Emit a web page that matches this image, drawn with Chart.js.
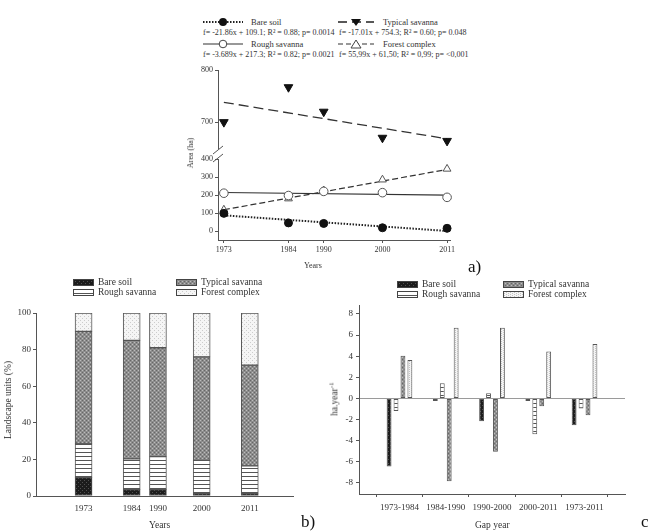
<!DOCTYPE html>
<html>
<head>
<meta charset="utf-8">
<script src="https://cdn.jsdelivr.net/npm/chart.js@4.4.1/dist/chart.umd.min.js"></script>
<style>
body{margin:0;background:#fff;width:648px;height:531px;position:relative;overflow:hidden;font-family:"Liberation Serif","Times New Roman",serif;color:#333}
.t{position:absolute;white-space:nowrap;line-height:12px}
canvas{position:absolute}
.rot{transform:translate(-50%,-50%) rotate(-90deg)}
.sw{position:absolute}
</style>
</head>
<body>
<!-- panel a legend -->
<svg class="sw" style="left:203px;top:16px" width="40" height="12"><line x1="0" y1="6" x2="40" y2="6" stroke="#222" stroke-width="2" stroke-dasharray="1.5 1.5"/><circle cx="20" cy="6" r="4" fill="#111"/></svg>
<div class="t" style="left:251px;top:16px;font-size:8.5px">Bare soil</div>
<svg class="sw" style="left:338px;top:16px" width="36" height="12"><line x1="0" y1="6" x2="36" y2="6" stroke="#222" stroke-width="1.3" stroke-dasharray="9 5"/><polygon points="13,3 23,3 18,10" fill="#111"/></svg>
<div class="t" style="left:383px;top:16px;font-size:8.5px">Typical savanna</div>
<div class="t" style="left:203px;top:27px;font-size:8px">f= -21.86x + 109.1; R² = 0.88; p= 0.0014</div>
<div class="t" style="left:339px;top:27px;font-size:8px">f= -17.01x + 754.3; R² = 0.60; p= 0.048</div>
<svg class="sw" style="left:203px;top:38px" width="40" height="12"><line x1="0" y1="6" x2="40" y2="6" stroke="#333" stroke-width="1.2"/><circle cx="20" cy="6" r="3.8" fill="#fff" stroke="#444" stroke-width="1"/></svg>
<div class="t" style="left:251px;top:38px;font-size:8.5px">Rough savanna</div>
<svg class="sw" style="left:338px;top:38px" width="36" height="12"><line x1="0" y1="6" x2="36" y2="6" stroke="#333" stroke-width="1.2" stroke-dasharray="5 3"/><polygon points="18,2 23,10 13,10" fill="#fff" stroke="#444" stroke-width="1"/></svg>
<div class="t" style="left:383px;top:38px;font-size:8.5px">Forest complex</div>
<div class="t" style="left:203px;top:49px;font-size:8px">f= -3.689x + 217.3; R² = 0.82; p= 0.0021</div>
<div class="t" style="left:339px;top:49px;font-size:8px">f= 55,99x + 61,50; R² = 0,99; p= &lt;0,001</div>

<canvas id="upA" width="300" height="95" style="left:160px;top:60px"></canvas>
<canvas id="loA" width="300" height="125" style="left:160px;top:140px"></canvas>
<div class="t rot" style="left:191px;top:153px;font-size:8px">Area (ha)</div>
<div class="t" style="left:304px;top:260px;font-size:8px">Years</div>
<div class="t" style="left:468px;top:257px;font-size:17px;line-height:20px;color:#111">a)</div>

<!-- panel b -->
<canvas id="chB" width="300" height="230" style="left:0px;top:300px"></canvas>
<div id="legB"></div>
<div class="t rot" style="left:8px;top:400px;font-size:9.5px">Landscape units (%)</div>
<div class="t" style="left:149px;top:519px;font-size:9.5px">Years</div>
<div class="t" style="left:301px;top:512px;font-size:17px;line-height:20px;color:#111">b)</div>

<!-- panel c -->
<canvas id="chC" width="348" height="235" style="left:300px;top:295px"></canvas>
<div id="legC"></div>
<div class="t rot" style="left:333px;top:399px;font-size:9.5px">ha.year<sup style="font-size:7px">-1</sup></div>
<div class="t" style="left:475px;top:519px;font-size:9.5px">Gap year</div>
<div class="t" style="left:641px;top:512px;font-size:17px;line-height:20px;color:#111">c)</div>

<script>
// ---- panel a: area (ha) per year
const yearsA = [1973, 1984, 1990, 2000, 2011];
const bareSoilA = [98, 45, 42, 18, 15];
const roughSavA = [210, 197, 220, 213, 187];
const typicalSavA = [700, 767, 720, 670, 664];
const forestCompA = [118, 180, 225, 285, 345];
// fitted lines, read at both ends
const fitYears = [1973, 2011];
const bareSoilFit = [87, 0];
const roughSavFit = [214, 199];
const typicalSavFit = [738, 668];
const forestCompFit = [118, 342];
const ticksUpA = [700, 800];
const ticksLoA = [0, 100, 200, 300, 400];

// ---- panel b: landscape units (%)
const yearsB = [1973, 1984, 1990, 2000, 2011];
const bareSoilB = [10, 3.5, 3.5, 1.5, 1.5];
const roughSavB = [18.5, 16.8, 18, 18, 15];
const typicalSavB = [61.5, 64.7, 59.5, 56.5, 55];
const forestCompB = [10, 15, 19, 24, 28.5];
const ticksB = [0, 20, 40, 60, 80, 100];

// ---- panel c: rate ha.year-1
const gapYears = ['1973-1984', '1984-1990', '1990-2000', '2000-2011', '1973-2011'];
const bareSoilC = [-6.45, -0.25, -2.15, -0.25, -2.55];
const roughSavC = [-1.2, 1.45, 0.5, -3.4, -0.95];
const typicalSavC = [4.05, -7.85, -5.05, -0.75, -1.6];
const forestCompC = [3.65, 6.7, 6.7, 4.45, 5.15];
const ticksC = [-8, -6, -4, -2, 0, 2, 4, 6, 8];

const unitNames = ['Bare soil', 'Typical savanna', 'Rough savanna', 'Forest complex'];

Chart.defaults.font.family = '"Liberation Serif", "Times New Roman", serif';
Chart.defaults.color = '#333';
Chart.defaults.animation = false;
Chart.defaults.responsive = false;
Chart.defaults.plugins.legend.display = false;
Chart.defaults.plugins.tooltip.enabled = false;

const axisCol = '#555';

function pts(xs, ys){
  return xs.map((x, i) => ({x: x, y: ys[i]}));
}

function makePattern(kind){
  const c = document.createElement('canvas');
  c.width = 4; c.height = 4;
  const g = c.getContext('2d');
  const px = (col, list) => { g.fillStyle = col; list.forEach(p => g.fillRect(p[0], p[1], 1, 1)); };
  if(kind === 'bare'){
    g.fillStyle = '#1c1c1c'; g.fillRect(0,0,4,4);
    px('#505050', [[0,0],[2,2]]);
  } else if(kind === 'rough'){
    g.fillStyle = '#fff'; g.fillRect(0,0,4,4);
    g.fillStyle = '#555'; g.fillRect(0,0,4,1);
  } else if(kind === 'typical'){
    g.fillStyle = '#8d8d8d'; g.fillRect(0,0,4,4);
    px('#bcbcbc', [[0,0],[2,2]]);
    px('#676767', [[2,0],[0,2]]);
  } else if(kind === 'forest'){
    g.fillStyle = '#f5f5f5'; g.fillRect(0,0,4,4);
    px('#cccccc', [[0,0],[2,2]]);
  } else if(kind === 'forestC'){
    g.fillStyle = '#f4f4f4'; g.fillRect(0,0,4,4);
    px('#c4c4c4', [[1,0],[1,2],[3,1],[3,3]]);
  }
  return g.createPattern(c, 'repeat');
}

const pat = {
  bare: makePattern('bare'),
  rough: makePattern('rough'),
  typical: makePattern('typical'),
  forest: makePattern('forest'),
  forestC: makePattern('forestC')
};

function fixW(w){ return s => { s.width = w; }; }
function fixH(h){ return s => { s.height = h; }; }
function setTicks(list){ return s => { s.ticks = list.map(v => ({value: v})); }; }

// legend boxes for b and c
function legend(id, cols, rows, fills){
  const el = document.getElementById(id);
  [0, 1, 2, 3].forEach(i => {
    const cx = cols[i % 2], cy = rows[Math.floor(i / 2)];
    const cv = document.createElement('canvas');
    cv.width = 21; cv.height = 7;
    cv.style.left = cx + 'px'; cv.style.top = (cy - 3) + 'px';
    const g = cv.getContext('2d');
    g.fillStyle = fills[i]; g.fillRect(0, 0, 21, 7);
    g.strokeStyle = '#444'; g.lineWidth = 1; g.strokeRect(0.5, 0.5, 20, 6);
    el.appendChild(cv);
    const tx = document.createElement('div');
    tx.className = 't';
    tx.style.left = (cx + 25) + 'px'; tx.style.top = (cy - 6) + 'px';
    tx.style.fontSize = '9.5px';
    tx.textContent = unitNames[i];
    el.appendChild(tx);
  });
}
legend('legB', [73, 176], [282, 292], [pat.bare, pat.typical, pat.rough, pat.forest]);
legend('legC', [397, 503], [284, 294], [pat.bare, pat.typical, pat.rough, pat.forestC]);

const yGrid = {drawOnChartArea: false, tickLength: 3, tickColor: axisCol};
const border = {color: axisCol, width: 1};

// ---- panel a, upper part (typical savanna)
new Chart(document.getElementById('upA'), {
  type: 'line',
  data: {
    datasets: [
      {data: pts(yearsA, typicalSavA), showLine: false, pointStyle: 'triangle', rotation: 180,
       pointRadius: 5, pointBackgroundColor: '#111', pointBorderColor: '#111', order: 0},
      {data: pts(fitYears, typicalSavFit), borderColor: '#333', borderWidth: 1.3, borderDash: [10, 5],
       pointRadius: 0, order: 1}
    ]
  },
  options: {
    layout: {padding: {top: 10, right: 10, bottom: 4, left: 0}},
    clip: false,
    scales: {
      x: {type: 'linear', min: 1972, max: 2011.5, display: false},
      y: {min: 650, max: 800, afterFit: fixW(58), afterBuildTicks: setTicks(ticksUpA),
          ticks: {font: {size: 8}, padding: 2, callback: v => String(v)},
          grid: yGrid, border: border}
    }
  }
});

// axis break marks
const breakMarks = {
  id: 'breakMarks',
  afterDraw(chart){
    const g = chart.ctx, x = chart.chartArea.left, t = chart.chartArea.top;
    g.save();
    g.strokeStyle = axisCol; g.lineWidth = 1;
    g.beginPath();
    g.moveTo(x - 5, t - 5); g.lineTo(x + 5, t - 13);
    g.moveTo(x - 5, t + 3); g.lineTo(x + 5, t - 5);
    g.stroke();
    g.restore();
  }
};

// ---- panel a, lower part
new Chart(document.getElementById('loA'), {
  type: 'line',
  data: {
    datasets: [
      {data: pts(yearsA, bareSoilA), showLine: false, pointStyle: 'circle', pointRadius: 4,
       pointBackgroundColor: '#111', pointBorderColor: '#111', order: 0},
      {data: pts(yearsA, roughSavA), showLine: false, pointStyle: 'circle', pointRadius: 4.3,
       pointBackgroundColor: '#fff', pointBorderColor: '#555', pointBorderWidth: 1, order: 0},
      {data: pts(yearsA, forestCompA), showLine: false, pointStyle: 'triangle', pointRadius: 4.5,
       pointBackgroundColor: '#fff', pointBorderColor: '#555', pointBorderWidth: 1, order: 0},
      {data: pts(fitYears, bareSoilFit), borderColor: '#222', borderWidth: 2, borderDash: [1.5, 1.5],
       pointRadius: 0, order: 1},
      {data: pts(fitYears, roughSavFit), borderColor: '#333', borderWidth: 1.2, pointRadius: 0, order: 1},
      {data: pts(fitYears, forestCompFit), borderColor: '#333', borderWidth: 1.2, borderDash: [6, 3],
       pointRadius: 0, order: 1}
    ]
  },
  options: {
    layout: {padding: {top: 19, right: 10, bottom: 0, left: 0}},
    clip: false,
    scales: {
      x: {type: 'linear', min: 1972, max: 2011.5, afterFit: fixH(25), afterBuildTicks: setTicks(yearsA),
          ticks: {font: {size: 8}, padding: 2, maxRotation: 0, autoSkip: false, callback: v => String(v)},
          grid: yGrid, border: border},
      y: {min: -50, max: 400, afterFit: fixW(58), afterBuildTicks: setTicks(ticksLoA),
          ticks: {font: {size: 8}, padding: 2, callback: v => String(v)},
          grid: yGrid, border: border}
    }
  },
  plugins: [breakMarks]
});

// ---- panel b, stacked percentages
function stackSet(vals, fill){
  return {data: pts(yearsB, vals), backgroundColor: fill, borderColor: '#555', borderWidth: 1,
          barThickness: 17, borderSkipped: false};
}
new Chart(document.getElementById('chB'), {
  type: 'bar',
  data: {
    datasets: [
      stackSet(bareSoilB, pat.bare),
      stackSet(roughSavB, pat.rough),
      stackSet(typicalSavB, pat.typical),
      stackSet(forestCompB, pat.forest)
    ]
  },
  options: {
    layout: {padding: {top: 13, right: 7, bottom: 0, left: 0}},
    scales: {
      x: {type: 'linear', stacked: true, min: 1968, max: 2015, afterFit: fixH(34),
          afterBuildTicks: setTicks(yearsB),
          ticks: {font: {size: 9}, padding: 7, maxRotation: 0, autoSkip: false, callback: v => String(v)},
          grid: {display: false, drawTicks: false, tickLength: 0}, border: border},
      y: {stacked: true, min: 0, max: 100, afterFit: fixW(36), afterBuildTicks: setTicks(ticksB),
          ticks: {font: {size: 9}, padding: 2, callback: v => String(v)},
          grid: yGrid, border: border}
    }
  }
});

// ---- panel c, rates per gap
function rateSet(vals, fill){
  return {data: vals.map((v, i) => ({x: i + 1, y: v})), backgroundColor: fill,
          borderColor: '#555', borderWidth: 1, borderSkipped: false,
          categoryPercentage: 0.6, barPercentage: 0.7};
}
new Chart(document.getElementById('chC'), {
  type: 'bar',
  data: {
    datasets: [
      rateSet(bareSoilC, pat.bare),
      rateSet(roughSavC, pat.rough),
      rateSet(typicalSavC, pat.typical),
      rateSet(forestCompC, pat.forestC)
    ]
  },
  options: {
    layout: {padding: {top: 10, right: 23, bottom: 0, left: 0}},
    scales: {
      x: {type: 'linear', min: 0.7, max: 5.3, afterFit: fixH(36),
          afterBuildTicks: setTicks([1, 2, 3, 4, 5]),
          ticks: {font: {size: 9}, padding: 5, maxRotation: 0, autoSkip: false,
                  callback: v => gapYears[v - 1]},
          grid: yGrid, border: border},
      y: {min: -9.05, max: 8.85, afterFit: fixW(59), afterBuildTicks: setTicks(ticksC),
          ticks: {font: {size: 9}, padding: 3, callback: v => String(v)},
          grid: {drawOnChartArea: true, tickLength: 3, tickColor: axisCol,
                 color: c => c.tick && c.tick.value === 0 ? '#9a9a9a' : 'rgba(0,0,0,0)'},
          border: border}
    }
  }
});
</script>
</body>
</html>
